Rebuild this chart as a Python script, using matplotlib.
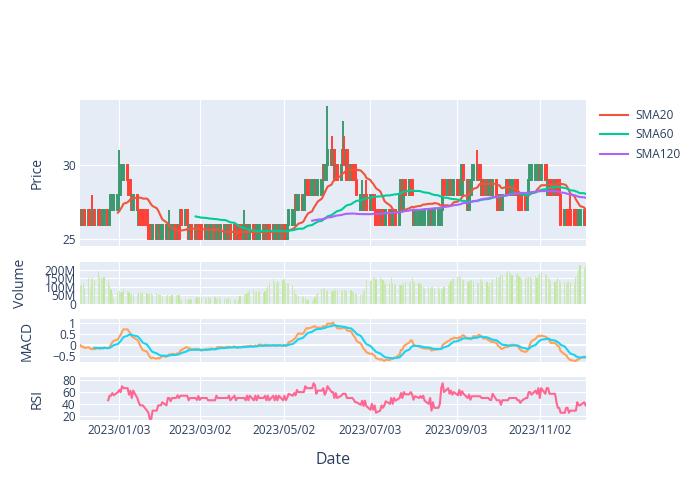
import pandas as pd
import numpy as np
import matplotlib
matplotlib.use("Agg")
import matplotlib.pyplot as plt
import matplotlib.dates as mdates
from matplotlib.lines import Line2D

plt.rcParams['font.family'] = ['Open Sans', 'DejaVu Sans']

# Daily OHLC (integer prices), one row per trading day from 2022-12-06
closes = [
    27, 26, 27, 26, 27, 26, 26, 27, 26, 27, 26, 27, 26, 27, 26, 27,
    28, 28, 28, 28,
    29, 29, 30, 30, 29,
    28, 28, 27, 28,
    27, 27, 26, 26, 26, 26,
    25, 25, 25, 26, 25, 26, 25, 26, 26, 25, 26, 26, 25, 26, 25, 26, 25, 27, 26, 27, 26, 25,
    26, 25, 26, 25, 26, 25, 25, 26, 25, 26,
    25, 26, 25, 26, 26, 25, 26, 25, 26, 25,
    26, 25, 26, 25, 25, 26, 25, 26, 25, 26,
    25, 26, 25, 26, 25, 26, 26, 25, 26, 25,
    26, 25, 26, 25, 26, 25, 26, 25, 26, 25,
    26, 27, 27, 27,
    27, 28, 28, 27, 28,
    29, 29, 28, 29, 29, 29, 28, 29, 29,
    30, 29, 30, 31, 30, 31, 29, 30, 29, 30, 31, 30, 31, 29,
    30, 29, 29, 29,
    28, 28, 28, 27, 28, 27, 27, 28, 27, 27,
    26, 26, 27, 26, 26, 27, 26, 27, 26, 27, 26,
    28, 29, 27, 29, 28, 29, 29, 28,
    26, 27, 27, 27, 27, 27, 27, 27, 27, 26, 27, 27, 27, 27, 27,
    29, 28, 29, 28, 29, 28, 29,
    28, 29, 28, 30, 29, 27, 29, 28, 29,
    30, 29, 30, 29,
    29, 28, 29, 28, 29, 28, 29, 28, 27, 28, 27, 28, 29, 28, 29, 28, 29,
    28, 28, 27, 27, 27, 27, 28,
    29, 30, 30, 30, 30, 30, 29, 30, 29, 29,
    29, 28, 28, 29, 28, 28, 28,
    26, 26, 27, 26, 26, 26, 26, 26, 27, 26, 27, 27, 26,
]
opens = [
    26, 27, 26, 27, 26, 27, 27, 26, 27, 26, 27, 26, 27, 26, 27, 26,
    27, 27, 27, 27,
    28, 28, 29, 29, 30,
    29, 29, 28, 27,
    28, 26, 27, 27, 27, 27,
    26, 26, 26, 25, 26, 25, 26, 25, 25, 26, 25, 25, 26, 25, 26, 25, 26, 26, 27, 26, 27, 26,
    25, 26, 25, 26, 25, 26, 26, 25, 26, 25,
    26, 25, 26, 25, 25, 26, 25, 26, 25, 26,
    25, 26, 25, 26, 26, 25, 26, 25, 26, 25,
    26, 25, 26, 25, 26, 25, 25, 26, 25, 26,
    25, 26, 25, 26, 25, 26, 25, 26, 25, 26,
    25, 26, 26, 26,
    28, 27, 27, 28, 27,
    28, 28, 29, 28, 28, 28, 29, 28, 28,
    29, 30, 29, 30, 31, 30, 31, 29, 30, 29, 30, 31, 30, 31,
    29, 30, 30, 30,
    29, 27, 27, 28, 27, 28, 28, 27, 28, 28,
    27, 27, 26, 27, 27, 26, 27, 26, 27, 26, 27,
    26, 28, 29, 27, 29, 28, 28, 29,
    27, 26, 26, 26, 26, 26, 26, 26, 26, 27, 26, 26, 26, 26, 26,
    27, 29, 28, 29, 28, 29, 28,
    29, 28, 29, 28, 30, 29, 27, 29, 28,
    29, 30, 29, 30,
    28, 29, 28, 29, 28, 29, 28, 29, 28, 27, 28, 27, 28, 29, 28, 29, 28,
    29, 29, 28, 28, 28, 28, 27,
    28, 29, 29, 29, 29, 29, 30, 29, 30, 30,
    28, 29, 29, 28, 29, 29, 29,
    28, 27, 26, 27, 27, 27, 27, 27, 26, 27, 26, 26, 27,
]

# Days whose high reaches above the candle body (index: high)
high_spikes = {6: 28, 20: 31, 46: 27, 84: 27, 128: 34, 129: 32, 135: 33, 136: 32,
               145: 29, 148: 29, 197: 30, 204: 31, 253: 28}

# Volume in millions
volume_m = [
    108, 112, 125, 95, 150, 100, 150, 148, 140, 195,
    160, 150, 145, 155, 140,
    110, 90, 60, 35,
    70, 75, 72, 70, 85, 75,
    72, 55, 65, 50, 60,
    70, 68, 60, 72, 65, 60, 58, 62, 55, 65, 60,
    50, 52, 48, 45, 50, 45, 48, 50, 52, 48, 50,
    30, 28, 30, 25, 28, 32, 30, 35, 38, 35,
    40, 42, 38, 35, 40, 36, 34, 38, 32, 35, 38, 30, 34, 32, 36, 35, 30, 28, 22,
    18, 35, 45, 55, 60, 65, 70,
    80, 85, 70, 75, 70, 80, 72, 78, 90, 100,
    125, 145, 130, 125, 135, 130, 140, 145, 120,
    120, 125, 110, 80, 60, 50,
    45, 45, 40, 35, 30, 25, 20, 30, 40,
    55, 70, 85, 95, 85, 75, 80, 78, 75,
    85, 80, 82, 80, 78, 80, 82, 75, 80, 78, 70, 65, 60,
    55, 60, 75, 90,
    140, 135, 140, 155, 150, 148, 150, 148, 140, 120,
    115, 120, 150, 125, 118, 115, 110, 112, 110, 125, 130, 128,
    130, 150, 135, 120, 125, 125, 115, 100, 95, 100, 95, 98, 100, 95,
    100, 85, 90, 88, 100, 110, 125, 135, 145, 150, 160,
    165, 150, 145, 140, 130, 135, 140, 140, 135, 120, 125, 145,
    140, 135, 130, 100, 120, 130, 145,
    155, 150, 160, 175, 170, 180, 195, 185, 180, 170, 175,
    180, 165, 155, 145, 150, 150, 155, 160, 150, 165,
    150, 170, 180, 185, 175, 170, 150,
    145, 135, 130, 140, 150, 140, 130, 130, 125, 130, 135, 130,
    130, 160, 175, 200, 225, 210, 220,
]

tick_dates = ['2023-01-03', '2023-03-02', '2023-05-02', '2023-07-03', '2023-09-03', '2023-11-02']

# Build the frame
dates = pd.bdate_range('2022-12-06', periods=len(closes))
df = pd.DataFrame({'Open': opens, 'Close': closes, 'Volume': volume_m}, index=dates)
df['High'] = df[['Open', 'Close']].max(axis=1)
df['Low'] = df[['Open', 'Close']].min(axis=1)
for i, h in high_spikes.items():
    df.iloc[i, df.columns.get_loc('High')] = h

# Indicators
df['SMA20'] = df['Close'].rolling(20).mean()
df['SMA60'] = df['Close'].rolling(60).mean()
df['SMA120'] = df['Close'].rolling(120).mean()
ema12 = df['Close'].ewm(span=12, adjust=False).mean()
ema26 = df['Close'].ewm(span=26, adjust=False).mean()
df['MACD'] = ema12 - ema26
df['Signal'] = df['MACD'].ewm(span=9, adjust=False, min_periods=9).mean()
delta = df['Close'].diff()
gain = delta.clip(lower=0).rolling(14).mean()
loss = (-delta.clip(upper=0)).rolling(14).mean()
df['RSI'] = 100 - 100 / (1 + gain / loss)

# Figure layout in pixels (700x500)
W, H = 700, 500
fig = plt.figure(figsize=(7, 5), dpi=100)
fig.patch.set_facecolor('white')
TXT = '#2a3f5f'


def make_axes(top, bottom):
    ax = fig.add_axes([80 / W, 1 - bottom / H, 506 / W, (bottom - top) / H])
    ax.set_facecolor('#E5ECF6')
    for s in ax.spines.values():
        s.set_visible(False)
    ax.grid(True, color='white', linewidth=0.8)
    ax.set_axisbelow(True)
    ax.tick_params(length=0, labelsize=8.6, colors=TXT, pad=3)
    return ax


ax_p = make_axes(100, 246)
ax_v = make_axes(262, 304)
ax_m = make_axes(319, 362)
ax_r = make_axes(377, 420)

x0 = pd.Timestamp('2023-01-03') - pd.Timedelta(days=28.3)
x1 = pd.Timestamp('2023-01-03') + pd.Timedelta(days=336.3)
ticks = pd.to_datetime(tick_dates)
for ax in (ax_p, ax_v, ax_m, ax_r):
    ax.set_xlim(x0, x1)
    ax.set_xticks(ticks)
    ax.xaxis.set_major_formatter(mdates.DateFormatter('%Y/%m/%d'))
    if ax is not ax_r:
        ax.tick_params(labelbottom=False)

# Candlesticks, drawn in time order so colours interleave
inc = (df['Close'] > df['Open']).to_numpy()
cols = np.where(inc, '#3D9970', '#FF4136')
ax_p.vlines(df.index, df['Low'], df['High'], colors=cols, linewidth=1.4, zorder=2)
ax_p.bar(df.index, df['Close'] - df['Open'], bottom=df['Open'], width=1.0,
         color=cols, edgecolor=cols, linewidth=1.4, zorder=2)

ax_p.plot(df.index, df['SMA20'], color='#EF553B', linewidth=1.5, zorder=3)
ax_p.plot(df.index, df['SMA60'], color='#00CC96', linewidth=1.5, zorder=3)
ax_p.plot(df.index, df['SMA120'], color='#AB63FA', linewidth=1.5, zorder=3)
ax_p.set_ylim(24.55, 34.41)
ax_p.set_yticks([25, 30])

# Volume
ax_v.bar(df.index, df['Volume'], width=0.8, color='#B6E880', edgecolor='#E5ECF6',
         linewidth=0.3, zorder=2)
ax_v.set_ylim(0, 245)
ax_v.set_yticks([0, 50, 100, 150, 200])
ax_v.set_yticklabels(['0', '50M', '100M', '150M', '200M'])

# MACD
ax_m.axhline(0, color='white', linewidth=1.5, zorder=1)
ax_m.plot(df.index, df['MACD'], color='#FFA15A', linewidth=1.5, zorder=2)
ax_m.plot(df.index, df['Signal'], color='#19D3F3', linewidth=1.5, zorder=3)
ax_m.set_ylim(-0.76, 1.18)
ax_m.set_yticks([-0.5, 0, 0.5, 1])
ax_m.set_yticklabels(['\u22120.5', '0', '0.5', '1'])

# RSI
ax_r.plot(df.index, df['RSI'], color='#FF6692', linewidth=1.5, zorder=2)
ax_r.set_ylim(12.7, 85.6)
ax_r.set_yticks([20, 40, 60, 80])

# Axis titles
fig.text(37 / W, 1 - 173 / H, 'Price', rotation=90, ha='center', va='center', fontsize=10, color=TXT)
fig.text(20 / W, 1 - 283 / H, 'Volume', rotation=90, ha='center', va='center', fontsize=10, color=TXT)
fig.text(27 / W, 1 - 341 / H, 'MACD', rotation=90, ha='center', va='center', fontsize=10, color=TXT)
fig.text(37 / W, 1 - 399 / H, 'RSI', rotation=90, ha='center', va='center', fontsize=10, color=TXT)
fig.text(333 / W, 1 - 460 / H, 'Date', ha='center', va='center', fontsize=11.5, color=TXT)

# Legend
handles = [
    Line2D([0], [0], color='#EF553B', linewidth=1.5, label='SMA20'),
    Line2D([0], [0], color='#00CC96', linewidth=1.5, label='SMA60'),
    Line2D([0], [0], color='#AB63FA', linewidth=1.5, label='SMA120'),
]
fig.legend(handles=handles, loc='upper left', bbox_to_anchor=(595 / W, 1 - 104 / H),
           frameon=False, fontsize=8.6, labelcolor=TXT, handlelength=2.4,
           handletextpad=0.6, labelspacing=0.55, borderaxespad=0)

fig.savefig('out.png', dpi=100, facecolor='white')
